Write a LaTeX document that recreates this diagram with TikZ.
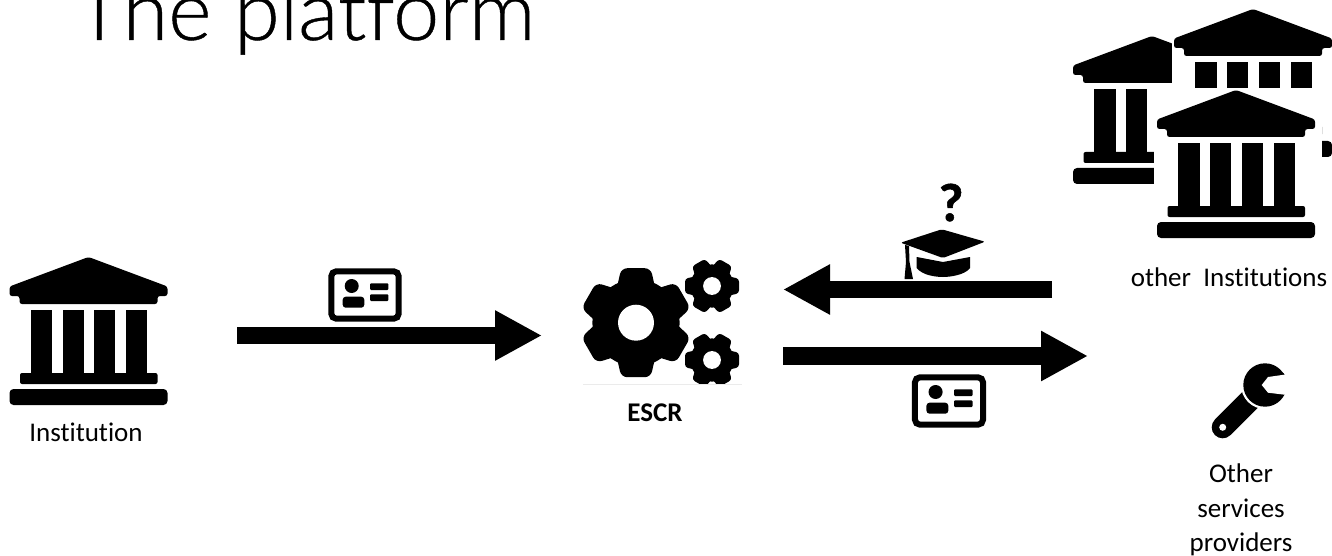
\documentclass[tikz,border=0pt]{standalone}
\usepackage{fontspec}
\setmainfont[RawFeature={-liga;-dlig;-clig}]{Carlito}
\newfontfamily\titlefont[UprightFont={* Light},FakeBold=0.5,RawFeature={-liga;-dlig;-clig}]{Lato}
\newfontfamily\qfont[UprightFont={* Bold},FakeBold=1]{Carlito}
\usetikzlibrary{arrows.meta}
\tikzset{
  x=1pt,y=-1pt,
  iconbox/.style={inner sep=0pt,outer sep=0pt,minimum width=#1},
  lab/.style={inner sep=0pt,font=\fontsize{27}{34.5}\selectfont,align=center,text=black},
  bigarrow/.style={line width=17.5pt,draw=black,-{Triangle[length=47pt,width=47pt]}},
  temple/.pic={
    \fill[black,rounded corners=2.5pt] (0,0) -- (79,29.5) -- (79,39) -- (69,39) -- (69,47) -- (-69,47) -- (-69,39) -- (-79,39) -- (-79,29.5) -- cycle;
    \foreach \a/\b in {-57.7/-36.3,-25.7/-5,5.7/26.7,37.7/58.7}{\fill[black] (\a,53) rectangle (\b,117);}
    \fill[black,rounded corners=2pt] (-68.5,116) rectangle (69,127);
    \fill[black,rounded corners=4pt] (-79,132) rectangle (79,148);
  },
  cardicon/.pic={
    \draw[black,line width=6pt,rounded corners=5pt] (-33.7,-23.7) rectangle (33.7,23.7);
    \fill[black] (-13.3,-9) circle (7);
    \fill[black,rounded corners=3pt] (-22.3,1.7) rectangle (-0.7,12.7);
    \fill[black,rounded corners=1pt] (5,-11.7) rectangle (23.3,-5);
    \fill[black,rounded corners=1pt] (5,-0.7) rectangle (23.3,6);
  },
  pics/gearicon/.style={code={
    \foreach \t in {0,60,...,300}{
      \begin{scope}[rotate=\t+#1]
      \fill[black,rounded corners=.11*\gearr pt] (.6*\gearr,-.36*\gearr) -- (\gearr,-.27*\gearr) -- (\gearr,.27*\gearr) -- (.6*\gearr,.36*\gearr) -- cycle;
      \end{scope}
    }
    \fill[black] (0,0) circle (.8*\gearr);
    \fill[white] (0,0) circle (.33*\gearr);
  }},
}
\begin{document}
\begin{tikzpicture}
\useasboundingbox (0,0) rectangle (1332,556);
\fill[white] (0,0) rectangle (1332,556);
% title
\begin{scope}
\clip (0,0) rectangle (1332,556);
\node[anchor=base west,inner sep=0pt,font=\titlefont\fontsize{83}{83}\selectfont] (title) at (75,40) {The platform};
\end{scope}
% placeholders
\node[iconbox=159pt,minimum height=148pt] (inst) at (88.5,331) {};
\node[iconbox=159pt,minimum height=120pt] (escr) at (662.5,325) {};
\node[iconbox=159pt,minimum height=148pt] (oinst) at (1236,164) {};
\coordinate (prov) at (1088,356);
% institution
\pic at (inst.north) {temple};
% other institutions
\pic at (1152,36) {temple};
\fill[white] (1172,0) rectangle (1332,88);
\pic at (1253,9) {temple};
\fill[white] (1154,88) rectangle (1322,240);
\pic at (oinst.north) {temple};
% gears
\def\gearr{54.5}
\pic at (636,322.7) {gearicon=90};
\def\gearr{27}
\pic at (712,286) {gearicon=0};
\pic at (712,360) {gearicon=0};
\fill[white] (690,384) rectangle (745,392);
\draw[black!8,line width=.5pt] (583,384.3) -- (742,384.3);
% arrows
\draw[bigarrow] ([shift={(69,4.5)}]inst.east) -- ([shift={(-41,10.5)}]escr.west);
\draw[bigarrow] ([shift={(-104.5,125.5)}]oinst.west) -- ([shift={(41,-35.5)}]escr.east);
\draw[bigarrow] ([shift={(41,31)}]escr.east) -- (prov);
% cards
\pic at (365,295) {cardicon};
\pic[xscale=1.01] at (949,401) {cardicon};
% mortarboard
\fill[black,rounded corners=2pt] (941.7,229.3) -- (985,241.7) -- (943,258) -- (900.7,242.7) -- cycle;
\fill[black] (916.7,257) -- (943,262) -- (970,257) -- (970,268) .. controls (965,275) and (950,277) .. (943,277) .. controls (935,277) and (922,275) .. (916.7,268) -- cycle;
\fill[black] (905,245) -- (909,246) -- (909.5,262) -- (913,279) -- (904.5,279) -- (906,262) -- cycle;
\node[lab,font=\qfont\fontsize{54}{54}\selectfont,anchor=base] (q) at (951,221) {?};
% wrench
\draw[black,line width=22pt,line cap=round] (1222.7,427.3) -- (1252,398);
\fill[white] (1222.7,427.3) circle (3.5);
\fill[white] (1265,385) circle (24);
\fill[black] (1265,385) circle (21.7);
\fill[black,rounded corners=1.5pt] (1265,363.3) -- (1285,374) -- (1285,395) -- (1265,406.7) -- cycle;
\fill[white] (1287,374.3) -- (1268,377) -- (1261.7,385) -- (1268,392.7) -- (1287,395) -- cycle;
% labels
\node[lab] (l1) at (86,432) {Institution};
\node[lab,font=\bfseries\fontsize{27}{30}\selectfont] (l2) at (655,413) {ESCR};
\node[lab] (l3) at (1229,277.5) {other\ \ Institutions};
\node[lab] (l4) at (1241,510) {Other\\services\\providers};
\end{tikzpicture}
\end{document}
